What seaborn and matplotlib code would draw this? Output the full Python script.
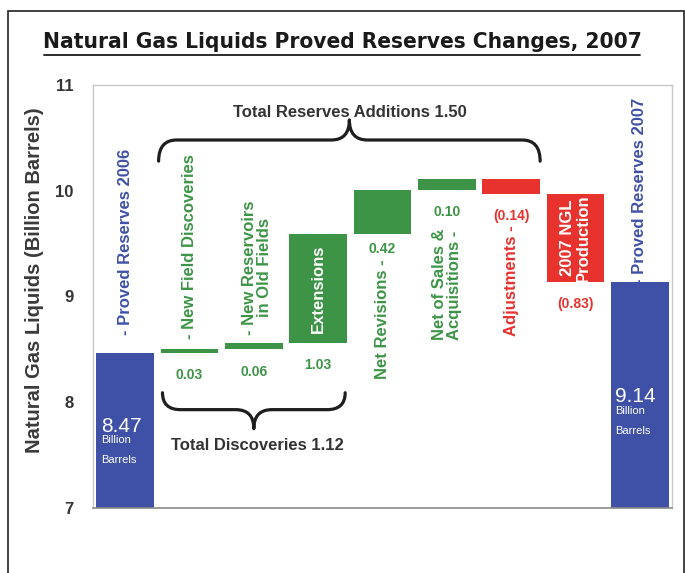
import numpy as np
import pandas as pd
import matplotlib
matplotlib.use("Agg")
import matplotlib.pyplot as plt
from matplotlib.path import Path
from matplotlib.patches import PathPatch, Rectangle
from matplotlib import font_manager
import seaborn as sns

# ---------------- data ----------------
categories = ["Proved Reserves 2006", "New Field Discoveries", "New Reservoirs in Old Fields",
              "Extensions", "Net Revisions", "Net of Sales & Acquisitions", "Adjustments",
              "2007 NGL Production", "Proved Reserves 2007"]
start_value = 8.47
changes = [0.03, 0.06, 1.03, 0.42, 0.10, -0.14, -0.83]
end_value = 9.14
value_labels = ["0.03", "0.06", "1.03", "0.42", "0.10", "(0.14)", "(0.83)"]
bar_names = ["- Proved Reserves 2006", "- New Field Discoveries", "- New Reservoirs\nin Old Fields",
             "Extensions", "Net Revisions -", "Net of Sales &\nAcquisitions -", "Adjustments -",
             "2007 NGL\nProduction", "- Proved Reserves 2007"]
total_additions_label = "Total Reserves Additions 1.50"
total_discoveries_label = "Total Discoveries 1.12"
title = "Natural Gas Liquids Proved Reserves Changes, 2007"
ylabel = "Natural Gas Liquids (Billion Barrels)"
yticks = [7, 8, 9, 10, 11]

# --------------- waterfall geometry ---------------
cum = np.concatenate([[start_value], start_value + np.cumsum(changes)])
bottoms = [0.0] + [min(cum[i], cum[i + 1]) for i in range(len(changes))] + [0.0]
heights = [start_value] + [abs(c) for c in changes] + [end_value]
tops = [b + h for b, h in zip(bottoms, heights)]

BLUE = "#3f51a6"
GREEN = "#3d9446"
RED = "#e8322e"
colors = [BLUE] + [GREEN if c > 0 else RED for c in changes] + [BLUE]

df = pd.DataFrame({"category": categories, "height": heights})

sns.set_theme(style="white")
fl = font_manager.fontManager.ttflist
names = [f.name for f in fl]
base_font = "Liberation Sans" if "Liberation Sans" in names else "DejaVu Sans"
plt.rcParams["font.family"] = [base_font, "DejaVu Sans"]

title_kw = dict(family=[base_font, "DejaVu Sans"], fontsize=17)
if "Liberation Sans Narrow" in names:
    title_kw = dict(family=["Liberation Sans Narrow", "DejaVu Sans"], fontsize=20)
elif any(f.name == "DejaVu Sans" and f.stretch == "condensed" and f.weight in ("bold", 700) for f in fl):
    title_kw = dict(family=["DejaVu Sans"], fontstretch="condensed", fontsize=16.2)

fig = plt.figure(figsize=(6.85, 5.73), dpi=100)
ax = fig.add_axes([93 / 685, 1 - 508 / 573, (672 - 93) / 685, (508 - 85) / 573])

sns.barplot(data=df, x="category", y="height", order=categories, color=BLUE,
            width=0.9, bottom=bottoms, ax=ax, linewidth=0, saturation=1)
for p, c in zip(ax.patches, colors):
    p.set_facecolor(c)
    p.set_edgecolor("none")

ax.set_ylim(7, 11)
ax.set_xlim(-0.5, len(categories) - 0.5)
ax.set_yticks(yticks)
ax.set_yticklabels([str(t) for t in yticks], fontsize=12, fontweight="bold", color="#333333")
ax.tick_params(axis="y", length=0, pad=14)
ax.set_xticks(np.arange(-0.5, len(categories), 1.0))
ax.set_xticklabels([])
ax.tick_params(axis="x", length=6, width=1, color="#8a8a8a", direction="out")
ax.set_xlabel("")
ax.set_ylabel(ylabel, fontsize=14.5, fontweight="bold", color="#3a3a3a")
ax.yaxis.set_label_coords(-0.085, 0.539)
for s in ["top", "right", "left"]:
    ax.spines[s].set_color("#c8c8c8")
    ax.spines[s].set_linewidth(1)
ax.spines["bottom"].set_color("#8a8a8a")
ax.spines["bottom"].set_linewidth(1.2)

# --------------- rotated category names ---------------
name_pos = [  # (x, y center, color, alignment)
    (0.0, 9.52, BLUE, "center"),
    (1.0, 9.47, GREEN, "center"),
    (2.05, 9.27, GREEN, "center"),
    (3.0, (bottoms[3] + tops[3]) / 2, "white", "center"),
    (4.0, 8.79, GREEN, "center"),
    (5.0, 9.12, GREEN, "left"),
    (6.0, 9.15, RED, "center"),
    (7.0, (bottoms[7] + tops[7]) / 2, "white", "center"),
    (8.0, 10.0, BLUE, "center"),
]
for name, (x, y, col, ma) in zip(bar_names, name_pos):
    ax.text(x, y, name, rotation=90, ha="center", va="center", color=col,
            fontsize=12, fontweight="bold", multialignment=ma, linespacing=1.0)

# --------------- value labels below change bars ---------------
for i, lab in enumerate(value_labels, start=1):
    off = -16 if i != 4 else -11
    ax.annotate(lab, xy=(i, bottoms[i]), xytext=(0, off), textcoords="offset points",
                ha="center", va="center", fontsize=10, fontweight="bold",
                color=GREEN if changes[i - 1] > 0 else RED)

# --------------- totals inside blue bars ---------------
for i, val, drop in [(0, start_value, 0.70), (len(categories) - 1, end_value, 1.09)]:
    ytop = val - drop
    ax.text(i - 0.38, ytop, f"{val:.2f}", ha="left", va="center", color="white", fontsize=15)
    ax.text(i - 0.38, ytop - 0.13, "Billion", ha="left", va="center", color="white", fontsize=8)
    ax.text(i - 0.38, ytop - 0.32, "Barrels", ha="left", va="center", color="white", fontsize=8)


# --------------- curly braces ---------------
def brace(ax, x0, x1, y_end, y_line, y_tip, r=0.28):
    xm = (x0 + x1) / 2
    verts = [(x0, y_end), (x0, y_line), (x0 + r, y_line),
             (xm - r, y_line),
             (xm, y_line), (xm, y_tip),
             (xm, y_line), (xm + r, y_line),
             (x1 - r, y_line),
             (x1, y_line), (x1, y_end)]
    codes = [Path.MOVETO, Path.CURVE3, Path.CURVE3,
             Path.LINETO,
             Path.CURVE3, Path.CURVE3,
             Path.CURVE3, Path.CURVE3,
             Path.LINETO,
             Path.CURVE3, Path.CURVE3]
    ax.add_patch(PathPatch(Path(verts, codes), fill=False, lw=2.3, color="#1e1e1e",
                           capstyle="round", joinstyle="round", clip_on=False))

brace(ax, 0.52, 6.45, 10.28, 10.48, 10.67)
ax.text(3.5, 10.74, total_additions_label, ha="center", va="center",
        fontsize=12, fontweight="bold", color="#333333")
brace(ax, 0.58, 3.42, 8.09, 7.93, 7.75)
ax.text(2.05, 7.59, total_discoveries_label, ha="center", va="center",
        fontsize=12, fontweight="bold", color="#333333")

# --------------- title, underline, border ---------------
fig.text(342 / 685, 1 - 42 / 573, title, ha="center", va="center",
         fontweight="bold", color="#1a1a1a", **title_kw)
fig.add_artist(plt.Line2D([44 / 685, 640 / 685], [1 - 55 / 573, 1 - 55 / 573],
                          transform=fig.transFigure, color="#1a1a1a", lw=1.3))
fig.add_artist(Rectangle((8 / 685, -0.05), (684 - 8) / 685, 1.05 - 11 / 573,
                         transform=fig.transFigure, fill=False, edgecolor="#222222", lw=1.2))

fig.savefig("out.png", dpi=100)
